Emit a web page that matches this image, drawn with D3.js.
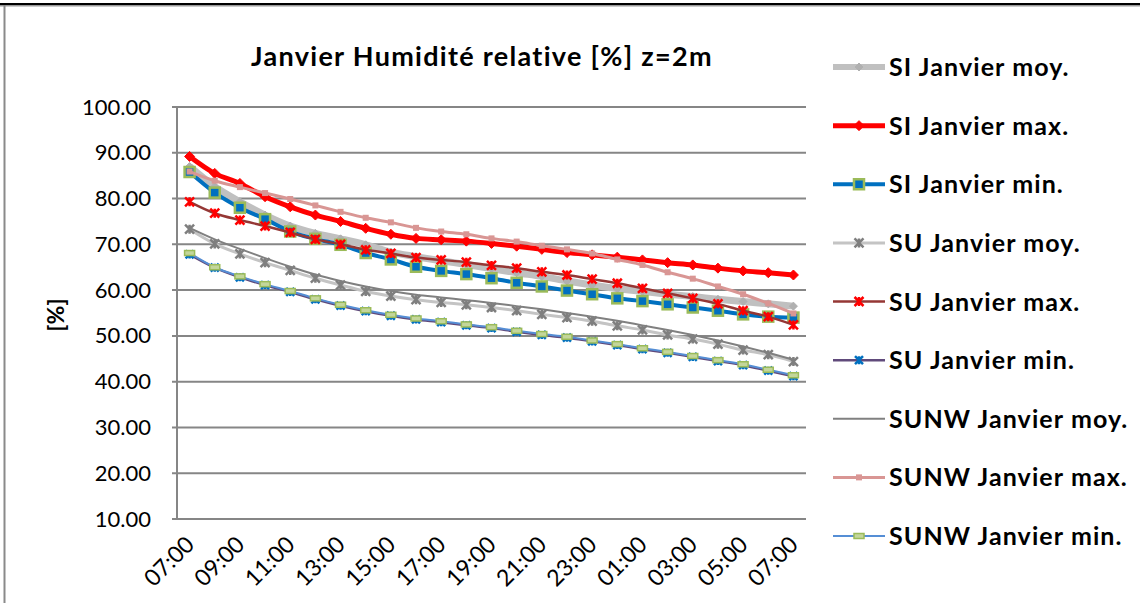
<!DOCTYPE html>
<html><head><meta charset="utf-8">
<script src="https://cdn.jsdelivr.net/npm/d3@7"></script>
<style>body{margin:0;background:#fff}svg{display:block}text{font-family:Lato,"Open Sans",sans-serif}</style>
</head><body>
<svg id="c" width="1140" height="603"></svg>
<script>
const hours = ["07:00","08:00","09:00","10:00","11:00","12:00","13:00","14:00","15:00","16:00","17:00","18:00","19:00","20:00","21:00","22:00","23:00","00:00","01:00","02:00","03:00","04:00","05:00","06:00","07:00 "];
const tickLabels = ["07:00","09:00","11:00","13:00","15:00","17:00","19:00","21:00","23:00","01:00","03:00","05:00","07:00"];
const yTicks = [10,20,30,40,50,60,70,80,90,100];
const seriesNames = ["SI Janvier moy.","SI Janvier max.","SI Janvier min.","SU Janvier moy.","SU Janvier max.","SU Janvier min.","SUNW Janvier moy.","SUNW Janvier max.","SUNW Janvier min."];
const siMoy  = [87.0,82.6,79.3,76.4,74.0,72.4,71.2,69.9,68.3,67.3,66.4,65.6,64.7,63.8,63.0,62.0,61.1,60.3,59.7,59.1,58.6,58.0,57.5,57.0,56.5];
const siMax  = [89.2,85.5,83.3,80.4,78.2,76.4,75.0,73.5,72.2,71.3,71.0,70.7,70.2,69.6,68.9,68.2,67.7,67.2,66.6,66.0,65.5,64.8,64.2,63.8,63.3];
const siMin  = [85.8,81.3,78.0,75.5,72.8,71.2,69.9,68.1,66.7,65.1,64.2,63.5,62.6,61.6,60.8,59.9,59.1,58.2,57.6,56.9,56.2,55.5,54.7,54.2,54.0];
const suMoy  = [73.3,70.1,67.9,66.0,64.3,62.6,61.1,59.7,58.7,57.9,57.3,56.8,56.2,55.5,54.7,54.0,53.2,52.2,51.3,50.2,49.3,48.2,46.9,45.9,44.4];
const suMax  = [79.3,76.8,75.3,74.0,72.6,71.1,70.0,68.8,68.0,67.1,66.6,66.1,65.4,64.8,64.0,63.3,62.4,61.5,60.4,59.3,58.2,57.0,55.5,54.2,52.4];
const suMin  = [67.8,64.9,62.8,61.1,59.6,58.0,56.6,55.4,54.4,53.6,53.0,52.3,51.7,50.9,50.2,49.6,48.8,48.0,47.1,46.3,45.4,44.5,43.6,42.4,41.2];
const sunwMoy= [73.6,71.1,69.0,67.0,65.1,63.4,62.0,60.8,59.8,59.0,58.4,57.8,57.2,56.5,55.8,55.0,54.2,53.3,52.3,51.3,50.2,49.0,47.7,46.3,44.8];
const sunwMax= [85.9,83.9,82.5,81.2,79.9,78.5,77.1,75.8,74.8,73.6,72.8,72.2,71.3,70.6,69.7,68.9,68.0,66.7,65.5,63.9,62.5,60.8,59.1,57.1,54.9];
const sunwMin= [68.1,65.0,63.0,61.3,59.8,58.2,56.8,55.6,54.6,53.8,53.2,52.5,51.9,51.1,50.4,49.8,49.0,48.2,47.3,46.5,45.6,44.7,43.8,42.6,41.4];

const values = [siMoy,siMax,siMin,suMoy,suMax,suMin,sunwMoy,sunwMax,sunwMin];
const styles = [
  {stroke:"#c0c0c0",w:7,marker:"diamond",mFill:"#b0b0b0",mStroke:"#b0b0b0",ms:8},
  {stroke:"#ff0000",w:5,marker:"diamond",mFill:"#ff0000",mStroke:"#ff0000",ms:10},
  {stroke:"#0070c0",w:4,marker:"square",mFill:"#0070c0",mStroke:"#9bbb59",ms:10},
  {stroke:"#c4c4c4",w:3,marker:"star",mFill:"none",mStroke:"#7f7f7f",ms:9},
  {stroke:"#953735",w:2.5,marker:"star",mFill:"none",mStroke:"#ff0000",ms:9},
  {stroke:"#604a7b",w:2.5,marker:"star",mFill:"none",mStroke:"#0070c0",ms:8},
  {stroke:"#808080",w:2,marker:null},
  {stroke:"#d99694",w:3,marker:"square",mFill:"#d99694",mStroke:"#d99694",ms:6},
  {stroke:"#558ed5",w:2,marker:"dash",mFill:"#c3d69b",mStroke:"#9bbb59",ms:10}
];

const svg = d3.select("#c");
svg.append("rect").attr("width",1140).attr("height",603).attr("fill","#fff");
// frame
svg.append("line").attr("x1",0).attr("x2",1140).attr("y1",5.5).attr("y2",5.5).attr("stroke","#9a9a9a").attr("stroke-width",2);
svg.append("line").attr("x1",0).attr("x2",1140).attr("y1",4).attr("y2",4).attr("stroke","#000").attr("stroke-width",2);
svg.append("line").attr("x1",4.5).attr("x2",4.5).attr("y1",5).attr("y2",603).attr("stroke","#8a8a8a").attr("stroke-width",2);

const x = d3.scalePoint().domain(d3.range(hours.length)).range([177,806]).padding(0.5);
const y = d3.scaleLinear().domain([10,100]).range([519,107]);

// gridlines
svg.append("g").selectAll("line").data(yTicks).join("line")
  .attr("x1",172).attr("x2",806).attr("y1",d=>y(d)).attr("y2",d=>y(d))
  .attr("stroke","#868686").attr("stroke-width",2);
svg.append("line").attr("x1",177).attr("x2",177).attr("y1",y(100)).attr("y2",y(10)).attr("stroke","#868686").attr("stroke-width",2);

// y labels
const yAxis = d3.axisLeft(y).tickValues(yTicks).tickFormat(d3.format(".2f")).tickSize(0).tickPadding(0);
const ya = svg.append("g").attr("transform","translate(151,0)").call(yAxis);
ya.select(".domain").remove();
ya.selectAll("text").attr("font-size",22).attr("fill","#000").attr("font-family","Lato");

// x labels
const tickIdx = hours.map((h,i)=>i).filter(i=>i%2===0);
svg.append("g").selectAll("text").data(tickIdx).join("text")
  .attr("transform",i=>`translate(${x(i)+6},${546}) rotate(-45)`)
  .attr("text-anchor","end")
  .attr("font-size",23).attr("fill","#000")
  .text((i,k)=>tickLabels[k]);

// title
svg.append("text").attr("x",482).attr("y",66).attr("text-anchor","middle")
  .attr("font-size",27).attr("letter-spacing",1.3).attr("font-weight","bold").text("Janvier Humidité relative [%] z=2m");
// y title
svg.append("text").attr("transform","translate(64,315) rotate(-90)").attr("text-anchor","middle")
  .attr("font-size",23).attr("font-weight","bold").text("[%]");

function marker(g, type, cx, cy, st){
  const s = st.ms/2;
  if(type==="diamond"){
    g.append("path").attr("d",`M${cx},${cy-s}L${cx+s},${cy}L${cx},${cy+s}L${cx-s},${cy}Z`).attr("fill",st.mFill).attr("stroke",st.mStroke);
  } else if(type==="square"){
    g.append("rect").attr("x",cx-s).attr("y",cy-s).attr("width",2*s).attr("height",2*s)
      .attr("fill",st.mFill).attr("stroke",st.mStroke).attr("stroke-width",st.mStroke===st.mFill?0:2.5);
  } else if(type==="star"){
    g.append("path").attr("d",`M${cx-s},${cy-s}L${cx+s},${cy+s}M${cx-s},${cy+s}L${cx+s},${cy-s}M${cx},${cy-s}L${cx},${cy+s}`)
      .attr("stroke",st.mStroke).attr("stroke-width",2.5).attr("fill","none");
  } else if(type==="dash"){
    g.append("rect").attr("x",cx-s).attr("y",cy-2.5).attr("width",2*s).attr("height",5)
      .attr("fill",st.mFill).attr("stroke",st.mStroke).attr("stroke-width",1.5);
  }
}

const line = d3.line().x((d,i)=>x(i)).y(d=>y(d)).curve(d3.curveMonotoneX);
values.forEach((vals,k)=>{
  const st = styles[k];
  const g = svg.append("g");
  g.append("path").datum(vals).attr("d",line).attr("fill","none")
    .attr("stroke",st.stroke).attr("stroke-width",st.w).attr("stroke-linejoin","round");
  if(st.marker) vals.forEach((v,i)=>marker(g, st.marker, x(i), y(v), st));
});

// legend
const ly = d3.scalePoint().domain(d3.range(seriesNames.length)).range([67,536]);
seriesNames.forEach((n,k)=>{
  const st = styles[k];
  const g = svg.append("g");
  const cy = ly(k);
  g.append("line").attr("x1",833).attr("x2",885).attr("y1",cy).attr("y2",cy)
    .attr("stroke",st.stroke).attr("stroke-width",Math.min(st.w,6));
  if(st.marker) marker(g, st.marker, 859, cy, st);
  g.append("text").attr("x",889).attr("y",cy).attr("dy","0.36em")
    .attr("font-size",25).attr("letter-spacing",1.1).attr("font-weight","bold").text(n);
});
</script>
</body></html>
